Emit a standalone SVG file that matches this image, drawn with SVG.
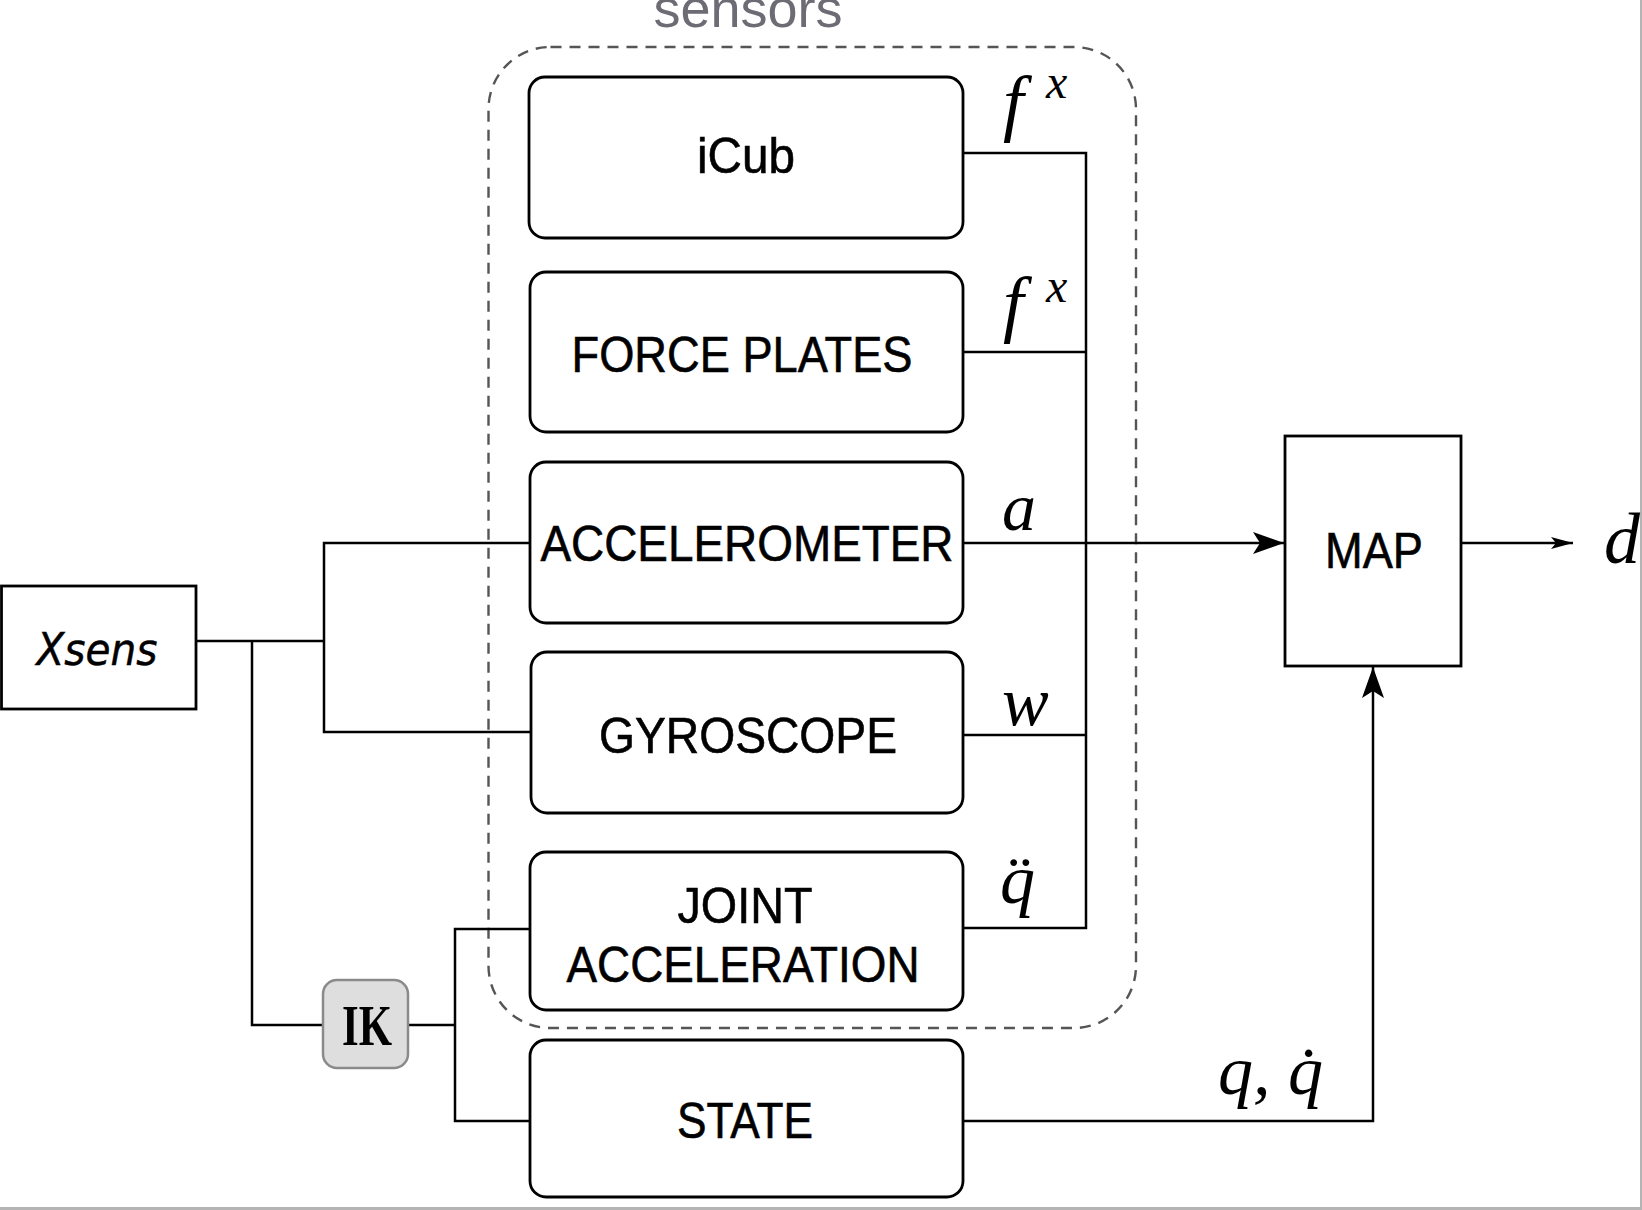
<svg xmlns="http://www.w3.org/2000/svg" width="1642" height="1210" viewBox="0 0 1642 1210">
<style>
.box{fill:#fff;stroke:#000;stroke-width:2.8}
.lbl{font-family:"Liberation Sans",Arial,sans-serif;font-size:50px;fill:#000;stroke:#000;stroke-width:0.6;text-anchor:middle}
.wire{fill:none;stroke:#000;stroke-width:2.5}
.math{font-family:"Liberation Serif","Times New Roman",serif;font-style:italic;fill:#000}
</style>
<defs>
<marker id="big" markerUnits="userSpaceOnUse" markerWidth="32" markerHeight="24" refX="31" refY="11" orient="auto">
<path d="M0,0 L31,11 L0,22 L7,11 Z" fill="#000"/>
</marker>
<marker id="small" markerUnits="userSpaceOnUse" markerWidth="23" markerHeight="14" refX="22" refY="6" orient="auto">
<path d="M0,0 L22,6 L0,12 L5,6 Z" fill="#000"/>
</marker>
</defs>
<rect x="0" y="0" width="1642" height="1210" fill="#fff"/>
<rect x="1640" y="0" width="2" height="1210" fill="#b4b4b4"/>
<rect x="0" y="1207" width="1642" height="3" fill="#b4b4b4"/>

<g id="sensors-group">
<rect x="488.5" y="47" width="647.5" height="981" rx="62" fill="none" stroke="#555" stroke-width="2.4" stroke-dasharray="11 8"/>
<text x="748" y="27" font-family="'Liberation Sans',Arial,sans-serif" font-size="54" fill="#6d6c75" text-anchor="middle">sensors</text>
</g>

<g id="connectors">
<path class="wire" d="M963,153 H1086 V928 H963"/>
<path class="wire" d="M963,352 H1086"/>
<path class="wire" d="M963,735 H1086"/>
<path class="wire" d="M963,543 H1284" marker-end="url(#big)"/>
<path class="wire" d="M1461,543 H1573" marker-end="url(#small)"/>
<path class="wire" d="M963,1121 H1373 V667" marker-end="url(#big)"/>
<path class="wire" d="M196,641 H324"/>
<path class="wire" d="M530,543 H324 V732 H531"/>
<path class="wire" d="M252,641 V1025 H323"/>
<path class="wire" d="M408,1025 H455"/>
<path class="wire" d="M530,929 H455 V1121 H530"/>
</g>

<g id="icub">
<rect class="box" x="529" y="77" width="434" height="161" rx="16"/>
<text class="lbl" x="746" y="173" textLength="98" lengthAdjust="spacingAndGlyphs">iCub</text>
</g>
<g id="force-plates">
<rect class="box" x="530" y="272" width="433" height="160" rx="16"/>
<text class="lbl" x="742" y="372" textLength="341" lengthAdjust="spacingAndGlyphs">FORCE PLATES</text>
</g>
<g id="accelerometer">
<rect class="box" x="530" y="462" width="433" height="161" rx="16"/>
<text class="lbl" x="747" y="561" textLength="413" lengthAdjust="spacingAndGlyphs">ACCELEROMETER</text>
</g>
<g id="gyroscope">
<rect class="box" x="531" y="652" width="432" height="161" rx="16"/>
<text class="lbl" x="748" y="753" textLength="298" lengthAdjust="spacingAndGlyphs">GYROSCOPE</text>
</g>
<g id="joint-acceleration">
<rect class="box" x="530" y="852" width="433" height="158" rx="16"/>
<text class="lbl" x="745" y="923" textLength="135" lengthAdjust="spacingAndGlyphs">JOINT</text>
<text class="lbl" x="743" y="982" textLength="353" lengthAdjust="spacingAndGlyphs">ACCELERATION</text>
</g>
<g id="state">
<rect class="box" x="530" y="1040" width="433" height="157" rx="16"/>
<text class="lbl" x="745" y="1138" textLength="136" lengthAdjust="spacingAndGlyphs">STATE</text>
</g>
<g id="xsens">
<rect class="box" x="1.5" y="586" width="194.5" height="123"/>
<text x="97" y="665" font-family="'DejaVu Sans',Verdana,sans-serif" font-style="italic" font-size="44" stroke="#000" stroke-width="0.5" text-anchor="middle" textLength="121" lengthAdjust="spacingAndGlyphs">Xsens</text>
</g>
<g id="ik">
<rect x="323" y="980" width="85" height="88" rx="14" fill="#dedede" stroke="#8a8a8a" stroke-width="2.5"/>
<text x="367" y="1045" font-family="'Liberation Serif','Times New Roman',serif" font-weight="bold" font-size="58" text-anchor="middle" textLength="50" lengthAdjust="spacingAndGlyphs">IK</text>
</g>
<g id="map">
<rect class="box" x="1285" y="436" width="176" height="230"/>
<text class="lbl" x="1374" y="568" textLength="98" lengthAdjust="spacingAndGlyphs">MAP</text>
</g>

<g id="labels">
<text class="math" x="1003" y="127" font-size="74">f</text>
<text class="math" x="1046" y="98" font-size="48">x</text>
<text class="math" x="1003" y="328" font-size="74">f</text>
<text class="math" x="1046" y="302" font-size="48">x</text>
<text class="math" x="1002" y="530" font-size="68">a</text>
<text class="math" x="1002" y="725" font-size="70">w</text>
<text class="math" x="1000" y="903" font-size="70">q̈</text>
<text class="math" x="1218" y="1094" font-size="70">q, q̇</text>
<text class="math" x="1604" y="563" font-size="72">d</text>
</g>
</svg>
